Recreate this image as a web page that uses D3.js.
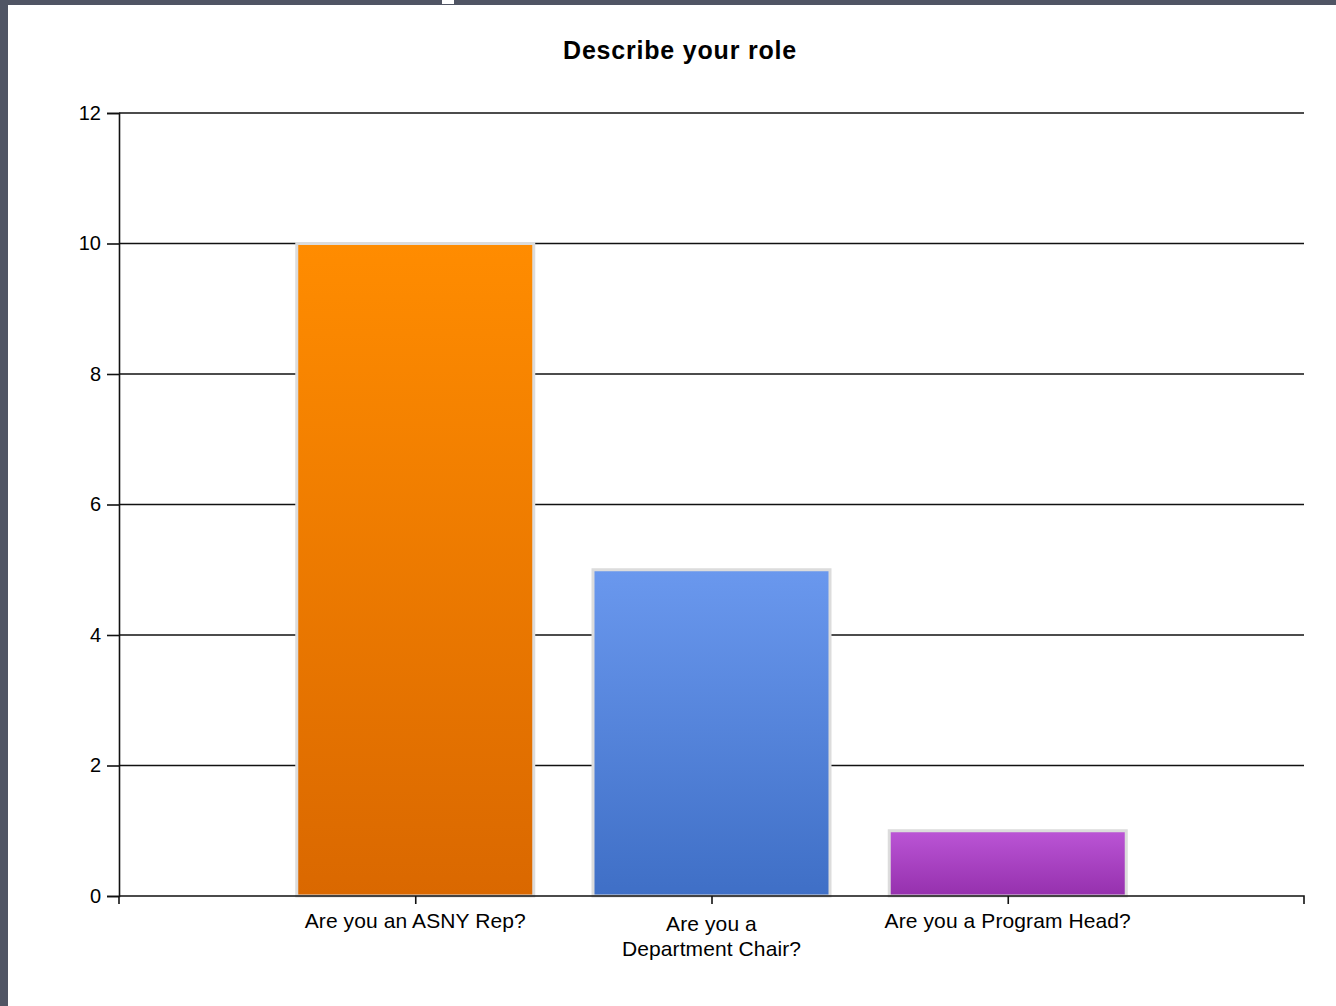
<!DOCTYPE html>
<html><head><meta charset="utf-8">
<script src="https://cdn.jsdelivr.net/npm/d3@7"></script>
<style>html,body{margin:0;padding:0;background:#505564;}svg{display:block;}</style>
</head><body>
<script>
const categories = ["Are you an ASNY Rep?", "Are you a Department Chair?", "Are you a Program Head?"];
const labelLines = [["Are you an ASNY Rep?"], ["Are you a", "Department Chair?"], ["Are you a Program Head?"]];
const values = [10, 5, 1];
const yTicks = [0, 2, 4, 6, 8, 10, 12];
const gradTop = ["#ff8c00", "#6a98ee", "#bb55d6"];
const gradBottom = ["#da6800", "#3f6fc6", "#9530ad"];

(function () {
const W = 1336, H = 1006;
const FONT = "Liberation Sans, Arial, sans-serif";
const svg = d3.select("body").append("svg").attr("width", W).attr("height", H);
svg.append("rect").attr("width", W).attr("height", H).attr("fill", "#505564");
svg.append("rect").attr("x", 8).attr("y", 5).attr("width", W - 8).attr("height", H - 5).attr("fill", "#fff");
svg.append("rect").attr("x", 442).attr("y", 0).attr("width", 12).attr("height", 4).attr("fill", "#fff");

const pL = 119, pR = 1304, pT = 113, pB = 896;
const y = d3.scaleLinear().domain([0, 12]).range([pB, pT]);
const x = d3.scaleLinear().domain([0, categories.length + 1]).range([pL, pR]);
const step = x(1) - x(0);
const bw = step * 0.8;

const defs = svg.append("defs");
values.forEach((v, i) => {
  const g = defs.append("linearGradient").attr("id", "g" + i).attr("x1", 0).attr("y1", 0).attr("x2", 0).attr("y2", 1);
  g.append("stop").attr("offset", "0%").attr("stop-color", gradTop[i]);
  g.append("stop").attr("offset", "100%").attr("stop-color", gradBottom[i]);
});

svg.append("text").attr("x", 680).attr("y", 59).attr("text-anchor", "middle")
  .attr("font-family", FONT).attr("font-weight", "bold")
  .attr("font-size", 25).attr("letter-spacing", 0.8).attr("fill", "#000").text("Describe your role");

svg.append("g").selectAll("line").data(yTicks.filter(t => t > 0)).join("line")
  .attr("x1", pL).attr("x2", pR).attr("y1", d => y(d)).attr("y2", d => y(d))
  .attr("stroke", "#111").attr("stroke-width", 1.6);

svg.append("g").selectAll("rect").data(values).join("rect")
  .attr("x", (d, i) => x(i + 1) - bw / 2).attr("width", bw)
  .attr("y", d => y(d)).attr("height", d => y(0) - y(d))
  .attr("fill", (d, i) => `url(#g${i})`)
  .attr("stroke", "#dcdcdc").attr("stroke-width", 3);

const yAxis = d3.axisLeft(y).tickValues(yTicks).tickSize(12).tickPadding(6);
const ya = svg.append("g").attr("transform", `translate(${pL},0)`).call(yAxis);
ya.select(".domain").attr("stroke", "#111").attr("stroke-width", 1.6);
ya.selectAll(".tick line").attr("stroke", "#111").attr("stroke-width", 1.6);
ya.selectAll("text").attr("font-family", FONT).attr("font-size", 20).attr("fill", "#000");

const xAxis = d3.axisBottom(x).tickValues([1, 2, 3]).tickSize(8).tickFormat("");
const xa = svg.append("g").attr("transform", `translate(0,${pB})`).call(xAxis);
xa.select(".domain").attr("stroke", "#111").attr("stroke-width", 1.6).attr("fill", "none").attr("d", `M${pL},0H${pR}V8`);
xa.selectAll(".tick line").attr("stroke", "#111").attr("stroke-width", 1.6);
svg.append("line").attr("x1", pL).attr("x2", pL).attr("y1", pB).attr("y2", pB + 8).attr("stroke", "#111").attr("stroke-width", 1.6);

const lab = svg.append("g");
categories.forEach((c, i) => {
  const t = lab.append("text").attr("x", x(i + 1)).attr("y", pB + 32).attr("text-anchor", "middle")
    .attr("font-family", FONT).attr("font-size", 21).attr("fill", "#000")
    .attr("letter-spacing", 0.1);
  labelLines[i].forEach((ln, j) => {
    t.append("tspan").attr("x", x(i + 1)).attr("dy", j === 0 ? (i === 1 ? 3 : 0) : 25).text(ln);
  });
});
})();
</script>
</body></html>
